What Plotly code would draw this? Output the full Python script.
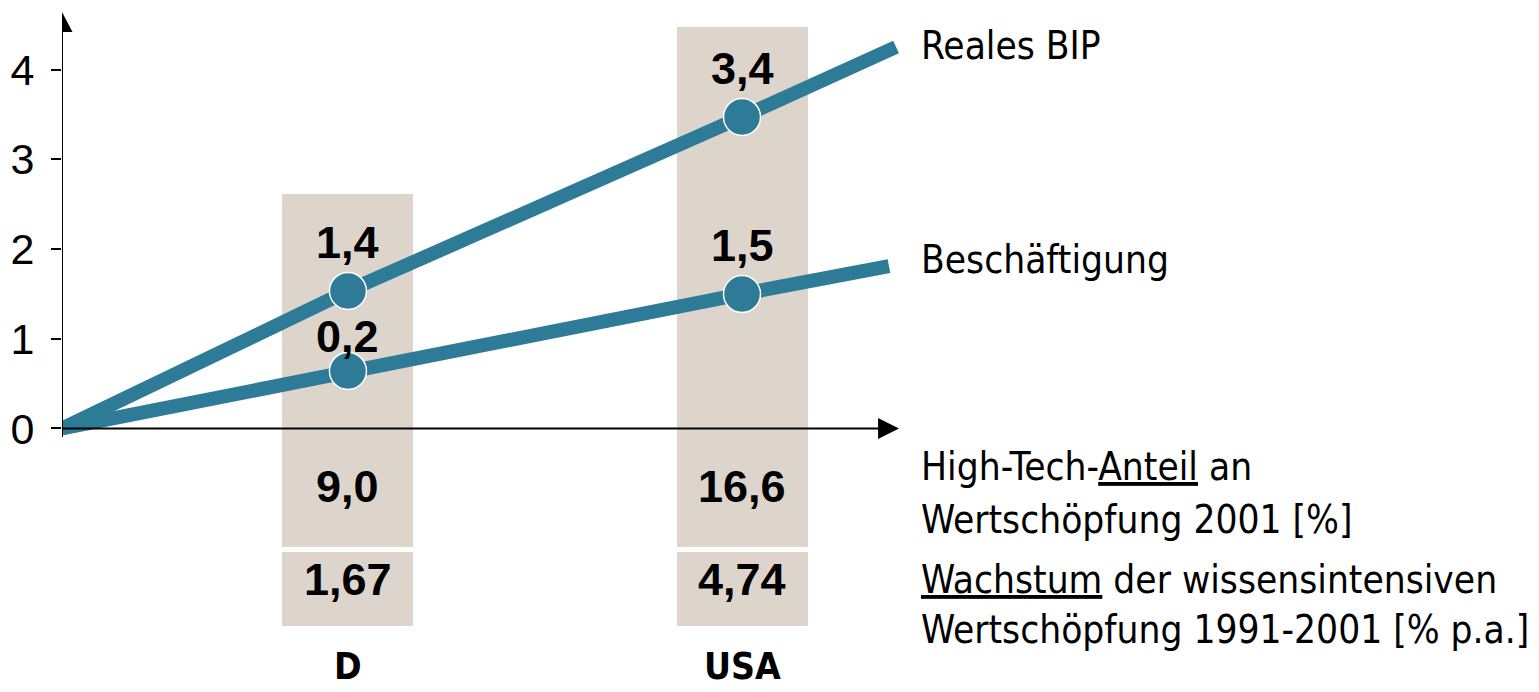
import plotly.graph_objects as go

# ---------------- data ----------------
categories = ["D", "USA"]
x_cat = [1.936, 4.604]            # horizontal position of the two countries
x_origin = 0.0
x_end = {"bip": 5.647, "besch": 5.599}

bip_vals = [1.533, 3.473]          # plotted position, Reales BIP
bip_end = 4.253
besch_vals = [0.641, 1.499]        # plotted position, Beschäftigung
besch_end = 1.811

bip_labels = ["1,4", "3,4"]
besch_labels = ["0,2", "1,5"]
hightech_share = ["9,0", "16,6"]   # High-Tech-Anteil an Wertschöpfung 2001 [%]
growth_knowledge = ["1,67", "4,74"]  # Wachstum wissensintensive Wertschöpfung [% p.a.]
box_top = [2.614, 4.476]

y_ticks = [0, 1, 2, 3, 4]

# ---------------- style ----------------
TEAL = "#2E7B97"
BOX = "#DDD5CC"
NUMF = "Liberation Sans, Arial, sans-serif"
TEXTF = "DejaVu Sans Condensed, DejaVu Sans, sans-serif"

fig = go.Figure()

# background boxes (bars with base)
box_w = 0.887
row1_bottom, row2_top, row2_bottom = -1.316, -1.382, -2.207
fig.add_trace(go.Bar(x=x_cat, y=[t - row1_bottom for t in box_top], base=row1_bottom,
                     width=box_w, marker=dict(color=BOX, line=dict(width=0)),
                     hoverinfo="skip", showlegend=False))
fig.add_trace(go.Bar(x=x_cat, y=[row2_top - row2_bottom] * 2, base=row2_bottom,
                     width=box_w, marker=dict(color=BOX, line=dict(width=0)),
                     hoverinfo="skip", showlegend=False))

# lines
for vals, end, key in [(bip_vals, bip_end, "bip"), (besch_vals, besch_end, "besch")]:
    fig.add_trace(go.Scatter(x=[x_origin] + x_cat + [x_end[key]], y=[0] + vals + [end],
                             mode="lines", line=dict(color=TEAL, width=14),
                             cliponaxis=False, hoverinfo="skip", showlegend=False))
for vals in [bip_vals, besch_vals]:
    fig.add_trace(go.Scatter(x=x_cat, y=vals, mode="markers",
                             marker=dict(size=37, color=TEAL, line=dict(color="white", width=1.5)),
                             cliponaxis=False, hoverinfo="skip", showlegend=False))

ann = []
# data labels
for i in range(2):
    ann.append(dict(x=x_cat[i], y=bip_vals[i], text=bip_labels[i], yshift=48))
    ann.append(dict(x=x_cat[i], y=besch_vals[i], text=besch_labels[i], yshift=[34, 49][i]))
    ann.append(dict(x=x_cat[i], y=-0.652, text=hightech_share[i]))
    ann.append(dict(x=x_cat[i], y=-1.689, text=growth_knowledge[i]))
for a in ann:
    a.update(showarrow=False, xanchor="center", yanchor="middle",
             font=dict(family=NUMF, size=45, color="black"))
    a["text"] = "<b>" + a["text"] + "</b>"
for i in range(2):
    ann.append(dict(x=x_cat[i], y=-2.655, text="<b>" + categories[i] + "</b>", showarrow=False,
                    xanchor="center", yanchor="middle",
                    font=dict(family=TEXTF, size=37, color="black")))

right_text = [
    ("Reales BIP", 4.275),
    ("Beschäftigung", 1.879),
    ("High-Tech-<u>Anteil</u> an", -0.429),
    ("Wertschöpfung 2001 [%]", -1.020),
    ("<u>Wachstum</u> der wissensintensiven", -1.689),
    ("Wertschöpfung 1991-2001 [% p.a.]", -2.246),
]
for t, yv in right_text:
    ann.append(dict(x=5.80, y=yv, text=t, showarrow=False, xanchor="left", yanchor="middle",
                    font=dict(family=TEXTF, size=38.5, color="black")))

# axes drawn as shapes with arrow heads
shapes = [
    dict(type="line", x0=0, x1=0, y0=-0.095, y1=4.43, line=dict(color="black", width=2), layer="above"),
    dict(type="path", path="M -0.0711 4.420 L 0.0711 4.420 L 0 4.643 Z",
         fillcolor="black", line=dict(width=0), layer="above"),
    dict(type="line", x0=0, x1=5.53, y0=0, y1=0, line=dict(color="black", width=2), layer="above"),
    dict(type="path", path="M 5.525 -0.117 L 5.525 0.117 L 5.667 0 Z",
         fillcolor="black", line=dict(width=0), layer="above"),
]

fig.update_layout(
    width=1539, height=692,
    margin=dict(l=62, r=0, t=0, b=0),
    paper_bgcolor="white", plot_bgcolor="white",
    barmode="overlay", bargap=0,
    annotations=ann, shapes=shapes,
    xaxis=dict(range=[0, 10], visible=False, fixedrange=True),
    yaxis=dict(range=[-2.938, 4.777], tickvals=y_ticks, ticktext=[str(v) for v in y_ticks],
               ticks="outside", ticklen=10, tickwidth=2, tickcolor="black",
               showline=False, showgrid=False, zeroline=False, ticklabelstandoff=8,
               tickfont=dict(family=NUMF, size=43, color="black"), fixedrange=True),
)

fig.write_html("out.html", config={"displayModeBar": False},
               post_script="document.body.style.margin='0px';document.body.style.overflow='hidden';")
